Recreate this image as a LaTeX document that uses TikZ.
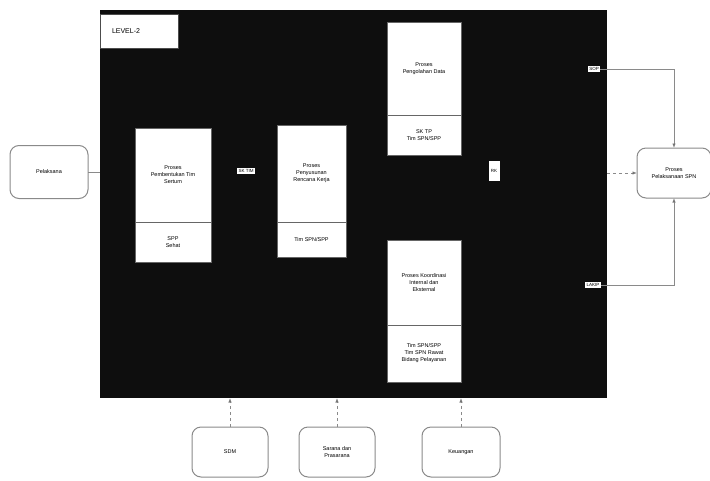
\documentclass[tikz,border=0pt]{standalone}
\usepackage{fontspec}
\setmainfont{Liberation Sans}
\usetikzlibrary{arrows.meta,positioning}
\definecolor{Wire}{HTML}{8A8A8A}
\definecolor{Board}{HTML}{0E0E0E}

\begin{document}
\begin{tikzpicture}[x=1pt,y=-1pt,
  every node/.style={font=\fontsize{5.5}{7}\selectfont,inner sep=0pt,outer sep=0pt},
  procbox/.style={draw=black!60,fill=white,line width=0.6pt,align=center},
  tagbox/.style={fill=white,text=black,inner sep=1.5pt,font=\fontsize{4.5}{5}\selectfont},
  termbox/.style={draw=Wire,fill=white,rounded corners=9pt,line width=1pt,align=center,minimum height=50pt},
  wire/.style={draw=Wire,line width=0.7pt},
  tip/.style={-{Latex[length=4.5pt,width=3.5pt,fill=black]}},
  flow/.style={wire,dashed,tip}]
\useasboundingbox (0,0) rectangle (710,480);
% the level-2 board
\node[fill=Board,minimum width=507pt,minimum height=388pt] (level) at (353.5,204) {};
\node[draw=black!70,fill=white,line width=0.8pt,minimum width=78pt,minimum height=34pt,
  font=\fontsize{7}{8}\selectfont,text width=70pt,align=left] (title) at (139,31) {\hspace{8pt}LEVEL-2};
% processes inside
\node[procbox,minimum width=76pt,minimum height=94pt] (tim) at (173,175) {Proses\\Pembentukan Tim\\Sertum};
\node[procbox,minimum width=76pt,minimum height=40pt,below=0pt of tim] (timout) {SPP\\Sehat};
\node[procbox,minimum width=69pt,minimum height=97pt] (rencana) at (311.5,173.5) {Proses\\Penyusunan\\Rencana Kerja};
\node[procbox,minimum width=69pt,minimum height=35pt,below=0pt of rencana] (rencanaout) {Tim SPN/SPP};
\node[procbox,minimum width=74pt,minimum height=93pt] (olah) at (424,68.5) {Proses\\Pengolahan Data};
\node[procbox,minimum width=74pt,minimum height=40pt,below=0pt of olah] (olahout) {SK TP\\Tim SPN/SPP};
\node[procbox,minimum width=74pt,minimum height=85pt] (koord) at (424,282.5) {Proses Koordinasi\\Internal dan\\Eksternal};
\node[procbox,minimum width=74pt,minimum height=57pt,below=0pt of koord] (koordout) {Tim SPN/SPP\\Tim SPN Rawat\\Bidang Pelayanan};
% labels on the board
\node[tagbox] (sktim) at (246,171) {SK TIM};
\node[tagbox,minimum width=11pt,minimum height=20pt] (rk) at (494,171) {RK};
\node[tagbox] (sop) at (594,69) {SOP};
\node[tagbox] (lakip) at (593,285) {LAKIP};
% outside parties
\node[termbox,minimum width=78pt,minimum height=53pt] (pelaksana) at (49,172) {Pelaksana};
\node[termbox,minimum width=74pt] (spn) at (674,173) {Proses\\Pelaksanaan SPN};
\node[termbox,minimum width=76pt] (sdm) at (230,452) {SDM};
\node[termbox,minimum width=76pt] (sarana) at (337,452) {Sarana dan\\Prasarana};
\node[termbox,minimum width=78pt] (keuangan) at (461,452) {Keuangan};
% connectors
\draw[wire] (pelaksana.east) -- (pelaksana.east -| level.west);
\draw[wire,tip] (sop.east) -| (spn.north);
\draw[flow] (level.east |- spn.west) -- (spn.west);
\draw[wire,tip] (lakip.east) -| (spn.south);
\foreach \src in {sdm,sarana,keuangan}
  \draw[flow] (\src.north) -- (\src.north |- level.south);
\end{tikzpicture}
\end{document}
